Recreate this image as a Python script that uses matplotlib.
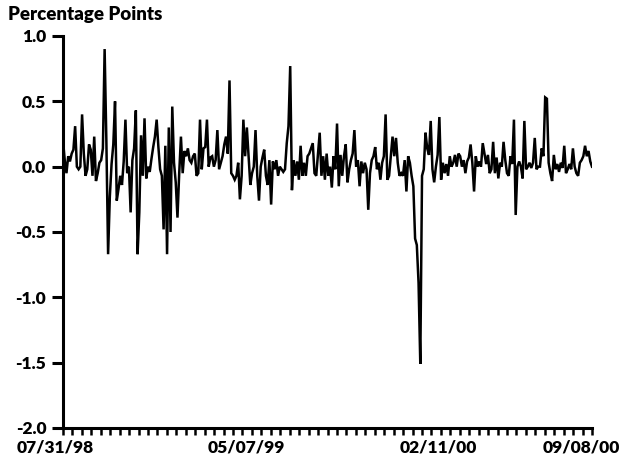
import numpy as np
import matplotlib
matplotlib.use("Agg")
import matplotlib.pyplot as plt

plt.rcParams['font.family'] = ['Lato', 'DejaVu Sans']
plt.rcParams['font.weight'] = 'bold'
plt.rcParams['axes.unicode_minus'] = False

# Series values (percentage points), read in four consecutive segments
seg1 = [0.20, 0.05, -0.05, 0.08, 0.04, 0.10, 0.13, 0.31, 0.00, -0.02,
        0.00, 0.40, 0.10, -0.07, -0.02, 0.17, 0.13, -0.07, 0.23, -0.11,
        -0.05, 0.03, 0.05, 0.14, 0.90, 0.20, -0.67, -0.23, 0.02, 0.17,
        0.50, -0.26, -0.17, -0.07, -0.14, 0.04, 0.36, -0.05, 0.00, -0.35,
        0.05, 0.14, 0.43, -0.67, -0.35, 0.24, -0.07, 0.37, -0.09, 0.00,
        -0.04, 0.06, 0.15, 0.23, 0.36, 0.15, -0.02, -0.07, -0.48, 0.16,
        -0.67, 0.30, -0.50, 0.46, 0.03, -0.12, -0.39, -0.05, 0.23, -0.05,
        0.12, 0.08, 0.14, 0.05, 0.03, 0.08]
seg2 = [0.10, -0.07, -0.05, 0.36, -0.02, 0.14, 0.15, 0.36, 0.00, 0.07,
        0.08, 0.00, 0.05, 0.28, -0.02, 0.03, 0.08, 0.17, 0.23, 0.10,
        0.66, -0.05, -0.07, -0.10, -0.07, 0.03, -0.25, -0.07, 0.36, 0.08,
        0.30, 0.08, -0.14, -0.05, 0.00, 0.28, -0.07, -0.26, 0.00, 0.07,
        0.13, -0.07, -0.14, 0.05, -0.29, 0.04, -0.02, 0.05, -0.07, 0.00,
        -0.02, -0.04, -0.02, 0.18, 0.31, 0.77, -0.18, 0.05, -0.07, 0.04,
        -0.10, 0.16, -0.07, 0.03, -0.07, 0.08, 0.10, 0.14, 0.18, -0.05,
        -0.07, 0.10, 0.26, -0.07, 0.08, -0.10]
seg3 = [0.10, -0.07, 0.00, -0.16, 0.08, -0.02, 0.33, -0.15, 0.09, -0.07,
        0.08, 0.17, -0.12, -0.02, 0.05, 0.10, 0.28, 0.00, 0.05, -0.15,
        0.04, -0.05, 0.03, -0.02, -0.33, -0.05, 0.05, 0.08, 0.15, -0.02,
        0.03, -0.10, 0.03, 0.08, 0.40, -0.10, -0.07, 0.08, 0.23, 0.08,
        0.22, 0.03, -0.07, -0.05, -0.07, 0.05, -0.19, 0.08, 0.03, -0.07,
        -0.15, -0.55, -0.60, -0.89, -1.51, -0.07, -0.02, 0.26, 0.14, 0.09,
        0.35, -0.02, -0.12, 0.00, 0.09, 0.38, -0.10, 0.03, -0.05, 0.02,
        -0.07, 0.08, 0.00, 0.03, 0.09, 0.00, 0.10, 0.08]
seg4 = [0.00, 0.05, -0.05, 0.04, 0.07, 0.17, 0.03, -0.19, 0.08, 0.00,
        0.04, 0.00, 0.18, 0.10, 0.02, 0.09, -0.05, -0.02, 0.19, -0.05,
        0.07, -0.09, 0.03, 0.00, 0.19, 0.05, -0.05, -0.07, 0.08, 0.02,
        0.36, -0.37, 0.00, 0.04, 0.00, -0.09, 0.35, -0.02, 0.00, 0.03,
        -0.01, 0.03, 0.22, -0.02, 0.00, 0.00, 0.14, 0.08, 0.53, 0.52,
        0.03, -0.05, -0.11, 0.09, -0.02, 0.02, -0.04, 0.03, -0.01, 0.16,
        -0.05, -0.02, 0.02, -0.02, 0.14, 0.00, -0.05, -0.07, 0.03, 0.05,
        0.08, 0.16, 0.08, 0.12, 0.04, 0.00]

date_labels = ["07/31/98", "05/07/99", "02/11/00", "09/08/00"]
ytick_values = [1.0, 0.5, 0.0, -0.5, -1.0, -1.5, -2.0]
ylabel_text = "Percentage Points"

values = np.array(seg1 + seg2 + seg3 + seg4)
x = np.arange(len(values))

fig = plt.figure(figsize=(6.33, 4.62), dpi=100)
ax = fig.add_axes([63 / 633, 34 / 462, 529 / 633, 392 / 462])

ax.plot(x, values, color='black', linewidth=1.8, solid_joinstyle='miter')

ax.set_xlim(0, len(values) - 1)
ax.set_ylim(-2.0, 1.0)

for s in ['top', 'right']:
    ax.spines[s].set_visible(False)
for s in ['left', 'bottom']:
    ax.spines[s].set_linewidth(2.2)

ax.set_yticks(ytick_values)
ax.set_yticklabels([f"{v:.1f}" for v in ytick_values], fontsize=12.5, fontweight='heavy')
ax.tick_params(axis='y', direction='out', length=8, width=2.2, pad=4)

ax.set_xticks(np.linspace(0, len(values) - 1, 57))
ax.set_xticklabels([])
ax.tick_params(axis='x', direction='out', length=5, width=1.8)

label_pos = [-0.015, 0.346, 0.709, 0.979]
for pos, lab in zip(label_pos, date_labels):
    ax.text(pos, -0.03, lab, transform=ax.transAxes, ha='center', va='top',
            fontsize=12.5, fontweight='heavy')

fig.text(8 / 633, 1 - 20 / 462, ylabel_text, ha='left', va='baseline',
         fontsize=13.5, fontweight='heavy')

fig.savefig("out.png", dpi=100)
